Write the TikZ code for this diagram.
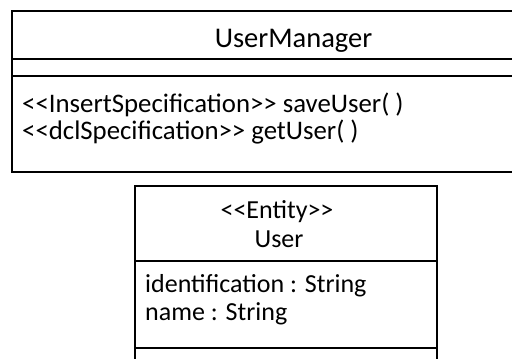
\documentclass[tikz,border=0pt]{standalone}
\usepackage{fontspec}
\setmainfont{Carlito}[Ligatures=TeXOff]
\begin{document}
\begin{tikzpicture}[x=1pt,y=-1pt,
  boxline/.style={line width=2pt,black},
  txt/.style={inner sep=0pt,font=\fontsize{26}{30}\selectfont},
  mtxt/.style={inner sep=0pt,font=\fontsize{26.8}{30}\selectfont},
  ttl/.style={inner sep=0pt,font=\fontsize{28.5}{32}\selectfont}]
\useasboundingbox[fill=white] (0,0) rectangle (512,359);
% UserManager class (right side runs off the picture)
\draw[boxline] (530,10.5) -- (12,10.5) -- (12,172) -- (530,172);
\draw[boxline] (12,59) -- (530,59);
\draw[boxline] (12,76) -- (530,76);
\node[ttl,anchor=base] (um) at (293.5,47) {UserManager};
\node[mtxt,anchor=base west] (m1) at (22,112) {<<InsertSpecification>> saveUser( )};
\node[mtxt,anchor=base west] (m2) at (22,139) {<<dclSpecification>> getUser( )};
% User class
\draw[boxline] (135,370) -- (135,185.5) -- (437,185.5) -- (437,370);
\draw[boxline] (135,261) -- (437,261);
\draw[boxline] (135,348) -- (437,348);
\node[txt,anchor=base] (st) at (277,218) {<<Entity>>};
\node[txt,anchor=base] (un) at (279,247) {User};
\node[txt,anchor=base west] (a1) at (145,292) {identification : String};
\node[txt,anchor=base west] (a2) at (145,320) {name : String};
\end{tikzpicture}
\end{document}
